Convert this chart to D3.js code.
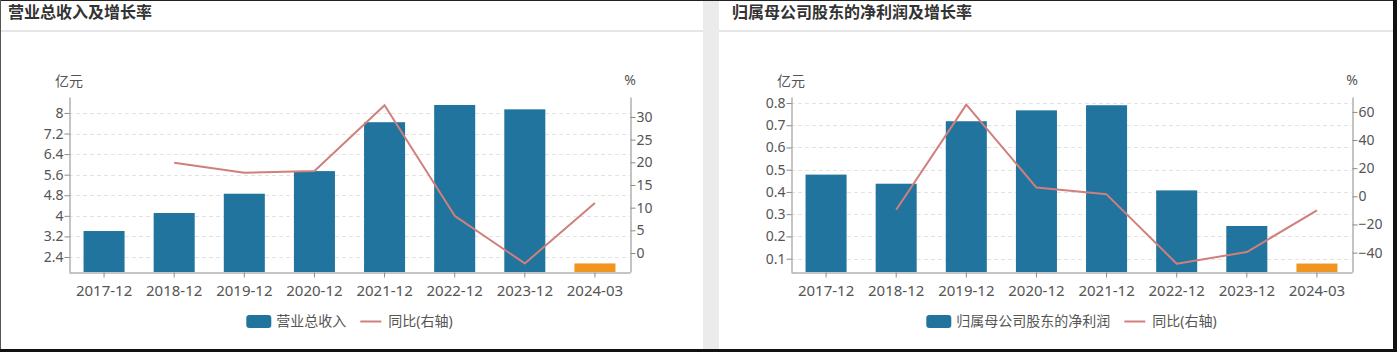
<!DOCTYPE html>
<html>
<head>
<meta charset="utf-8">
<script src="https://cdn.jsdelivr.net/npm/d3@7"></script>
<style>
  body { margin: 0; background: #fff; }
  svg { display: block; font-family: "Noto Sans", "Noto Sans CJK SC", sans-serif; }
</style>
</head>
<body>
<div id="chart"></div>
<script>
// categories shared by both charts
var categories = ["2017-12", "2018-12", "2019-12", "2020-12", "2021-12", "2022-12", "2023-12", "2024-03"];

// left chart: revenue (亿元) and yoy (%)
var revenue = [3.41, 4.11, 4.86, 5.74, 7.64, 8.31, 8.14, 2.15];
var revenueYoy = [null, 19.9, 17.7, 18.1, 32.6, 8.2, -2.3, 11.0];
var revenueTicks = [2.4, 3.2, 4, 4.8, 5.6, 6.4, 7.2, 8];
var revenueYoyTicks = [0, 5, 10, 15, 20, 25, 30];

// right chart: net profit (亿元) and yoy (%)
var profit = [0.478, 0.437, 0.718, 0.767, 0.79, 0.407, 0.247, 0.078];
var profitYoy = [null, -9.5, 65.2, 6.2, 1.4, -47.9, -39.6, -10.0];
var profitTicks = [0.1, 0.2, 0.3, 0.4, 0.5, 0.6, 0.7, 0.8];
var profitYoyTicks = [-40, -20, 0, 20, 40, 60];

var svgWidth = 1397;
var svgHeight = 352;

var barColor = "#21749e";
var lastColor = "#f0951f";
var lineColor = "#d07f7a";
var axisColor = "#8a8a8a";
var labelColor = "#555";

var svg = d3.select("#chart")
  .append("svg")
  .attr("width", svgWidth)
  .attr("height", svgHeight);

// background, gap between panels, borders
svg.append("rect").attr("width", svgWidth).attr("height", svgHeight).attr("fill", "#fff");
svg.append("rect").attr("x", 703).attr("y", 0).attr("width", 16).attr("height", svgHeight).attr("fill", "#ebebeb");
svg.append("rect").attr("x", 0).attr("y", 30).attr("width", 703).attr("height", 2).attr("fill", "#e6e6e6");
svg.append("rect").attr("x", 719).attr("y", 30).attr("width", 674).attr("height", 2).attr("fill", "#e6e6e6");
svg.append("rect").attr("x", 0).attr("y", 0).attr("width", svgWidth).attr("height", 1).attr("fill", "#222");
svg.append("rect").attr("x", 0).attr("y", 0).attr("width", 1).attr("height", svgHeight).attr("fill", "#555");
svg.append("rect").attr("x", 1393).attr("y", 0).attr("width", 4).attr("height", svgHeight).attr("fill", "#111");
svg.append("rect").attr("x", 0).attr("y", 349).attr("width", svgWidth).attr("height", 3).attr("fill", "#111");

function drawChart(opt) {
  var g = svg.append("g");

  g.append("text")
    .attr("x", opt.titleX)
    .attr("y", 18)
    .attr("font-size", "16px")
    .attr("font-weight", "bold")
    .attr("fill", "#333")
    .text(opt.title);

  var x = d3.scaleBand()
    .domain(categories)
    .range([opt.left, opt.right])
    .paddingInner(0.415)
    .paddingOuter(0.2075);

  var yL = d3.scaleLinear().domain(opt.leftDomain).range([opt.bottom, opt.top]);
  var yR = d3.scaleLinear().domain(opt.rightDomain).range([opt.bottom, opt.top]);

  // dashed gridlines at left ticks
  g.append("g")
    .selectAll("line")
    .data(opt.leftTicks)
    .enter()
    .append("line")
    .attr("x1", opt.left)
    .attr("x2", opt.right)
    .attr("y1", d => Math.round(yL(d)) + 0.5)
    .attr("y2", d => Math.round(yL(d)) + 0.5)
    .attr("stroke", "#e3e3e3")
    .attr("stroke-dasharray", "4,3");

  // bars
  g.append("g")
    .selectAll("rect")
    .data(opt.bars)
    .enter()
    .append("rect")
    .attr("x", (d, i) => x(categories[i]))
    .attr("width", x.bandwidth())
    .attr("y", d => yL(d))
    .attr("height", d => opt.bottom - yL(d))
    .attr("fill", (d, i) => i === categories.length - 1 ? lastColor : barColor);

  // yoy line on right axis
  var line = d3.line()
    .defined(d => d != null)
    .x((d, i) => x(categories[i]) + x.bandwidth() / 2)
    .y(d => yR(d));

  g.append("path")
    .datum(opt.line)
    .attr("d", line)
    .attr("fill", "none")
    .attr("stroke", lineColor)
    .attr("stroke-width", 2)
    .attr("stroke-linejoin", "round");

  // axes
  var bottomAxis = d3.axisBottom(x).tickSize(5).tickSizeOuter(0);
  var leftAxis = d3.axisLeft(yL).tickValues(opt.leftTicks).tickSize(5).tickSizeOuter(0).tickFormat(d3.format("~g"));
  var rightAxis = d3.axisRight(yR).tickValues(opt.rightTicks).tickSize(5).tickSizeOuter(0).tickFormat(d3.format("~g"));

  var xg = g.append("g")
    .attr("transform", `translate(0, ${opt.bottom + 0.5})`)
    .call(bottomAxis);
  xg.selectAll("text").attr("font-size", "15px").attr("dy", "1.05em");

  var lg = g.append("g")
    .attr("transform", `translate(${opt.left + 0.5}, 0)`)
    .call(leftAxis);
  lg.selectAll("text").attr("font-size", "14px").attr("x", -6);

  var rg = g.append("g")
    .attr("transform", `translate(${opt.right + 0.5}, 0)`)
    .call(rightAxis);
  rg.selectAll("text").attr("font-size", "14px").attr("x", 6);

  [xg, lg, rg].forEach(function (a) {
    a.attr("font-family", null);
    a.selectAll("path, line").attr("stroke", axisColor);
    a.selectAll("text").attr("fill", labelColor);
  });

  // axis names
  g.append("text")
    .attr("x", opt.left)
    .attr("y", 86)
    .attr("text-anchor", "middle")
    .attr("font-size", "14px")
    .attr("fill", labelColor)
    .text("亿元");

  g.append("text")
    .attr("x", opt.right)
    .attr("y", 85)
    .attr("text-anchor", "middle")
    .attr("font-size", "14px")
    .attr("fill", labelColor)
    .text("%");

  // legend
  var leg = g.append("g");
  var t1 = leg.append("text")
    .attr("font-size", "14px")
    .attr("fill", labelColor)
    .attr("y", 326)
    .text(opt.barName);
  var t2 = leg.append("text")
    .attr("font-size", "14px")
    .attr("fill", labelColor)
    .attr("y", 326)
    .text("同比(右轴)");
  var w1 = t1.node().getComputedTextLength();
  var w2 = t2.node().getComputedTextLength();
  var total = 25 + 5 + w1 + 12 + 25 + 5 + w2;
  var sx = (opt.left + opt.right) / 2 - total / 2;

  leg.append("rect")
    .attr("x", sx)
    .attr("y", 315)
    .attr("width", 25)
    .attr("height", 13)
    .attr("rx", 3)
    .attr("fill", barColor);
  t1.attr("x", sx + 30);
  var lx = sx + 30 + w1 + 12;
  leg.append("line")
    .attr("x1", lx + 2)
    .attr("x2", lx + 23)
    .attr("y1", 321.5)
    .attr("y2", 321.5)
    .attr("stroke", lineColor)
    .attr("stroke-width", 2);
  t2.attr("x", lx + 30);
}

drawChart({
  title: "营业总收入及增长率",
  titleX: 8,
  left: 69,
  right: 630,
  top: 97,
  bottom: 272,
  leftDomain: [1.817, 8.62],
  rightDomain: [-4.19, 34.4],
  leftTicks: revenueTicks,
  rightTicks: revenueYoyTicks,
  bars: revenue,
  line: revenueYoy,
  barName: "营业总收入"
});

drawChart({
  title: "归属母公司股东的净利润及增长率",
  titleX: 732,
  left: 791,
  right: 1352,
  top: 97,
  bottom: 272,
  leftDomain: [0.04, 0.827],
  rightDomain: [-53.8, 70.6],
  leftTicks: profitTicks,
  rightTicks: profitYoyTicks,
  bars: profit,
  line: profitYoy,
  barName: "归属母公司股东的净利润"
});
</script>
</body>
</html>
